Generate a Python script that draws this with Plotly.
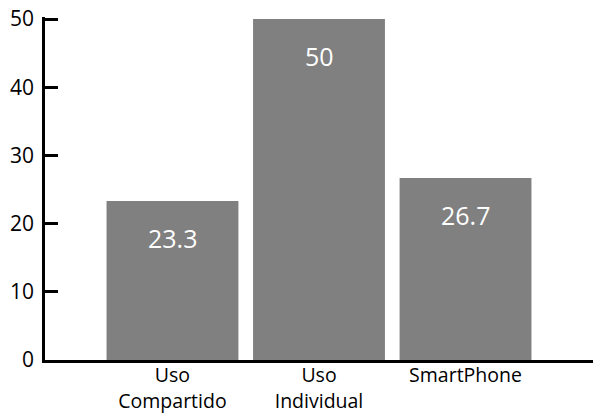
import plotly.graph_objects as go

categories = ["Uso<br>Compartido", "Uso<br>Individual", "SmartPhone"]
values = [23.3, 50, 26.7]
value_labels = ["23.3", "50", "26.7"]
y_ticks = [0, 10, 20, 30, 40, 50]

FONT = "Open Sans"

fig = go.Figure()
fig.add_trace(go.Bar(
    x=categories, y=values,
    marker=dict(color="#808080", line=dict(width=0)),
    width=0.9,
    hoverinfo="skip",
))

for c, v, t in zip(categories, values, value_labels):
    fig.add_annotation(
        x=c, y=v, text=t, showarrow=False,
        yanchor="middle", yshift=-37,
        font=dict(family=FONT, size=25, color="white"),
    )

fig.update_layout(
    width=593, height=414,
    margin=dict(l=45, r=0, t=17, b=54),
    plot_bgcolor="white", paper_bgcolor="white",
    showlegend=False,
    bargap=0.1,
    font=dict(family=FONT, color="black"),
)
fig.update_xaxes(
    range=[-0.87, 2.87], automargin=False,
    showline=True, linecolor="black", linewidth=2.5,
    showgrid=False, zeroline=False,
    ticks="", ticklabelstandoff=-4,
    tickfont=dict(family=FONT, size=19.5, color="black"),
)
# range top slightly above 50 so plotly keeps the inside tick at 50 (ticks within 1px of the edge are dropped)
fig.update_yaxes(
    range=[0, 50.3], tickvals=y_ticks, automargin=False,
    showline=True, linecolor="black", linewidth=2.5,
    showgrid=False, zeroline=False,
    ticks="inside", ticklen=13, tickwidth=2.5, tickcolor="black",
    ticklabelstandoff=4, ticklabeloverflow="allow",
    tickfont=dict(family=FONT, size=21, color="black"),
)

fig.write_html("out.html", config={"displayModeBar": False})

# remove the browser's default 8px body margin so the figure fills the window
with open("out.html", encoding="utf-8") as f:
    html = f.read()
html = html.replace("<body>", '<body style="margin:0;overflow:hidden">', 1)
with open("out.html", "w", encoding="utf-8") as f:
    f.write(html)
